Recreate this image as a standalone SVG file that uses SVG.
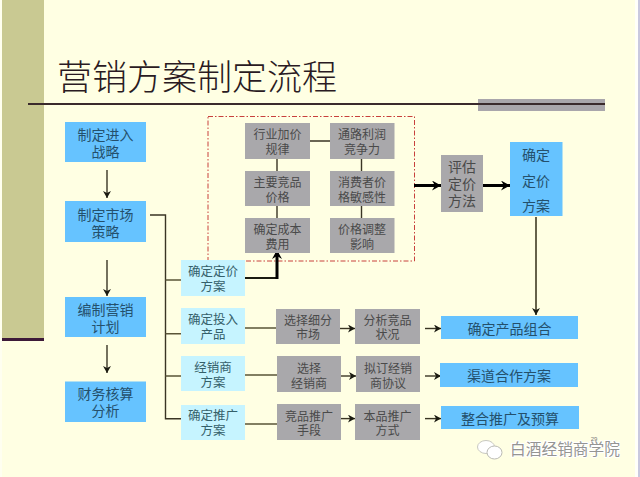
<svg xmlns="http://www.w3.org/2000/svg" width="640" height="477" viewBox="0 0 640 477">
<style>
text{font-family:"Liberation Sans","Noto Sans CJK SC",sans-serif;text-anchor:middle;font-size:14px}
.b{fill:#66C3FF}.l{fill:#C6F4FF}.g{fill:#A9A8AB}
.bt{fill:#24506C}.lt{fill:#35606A}.gt{fill:#4A4A4A}
.s13{font-size:12.500px}.s12{font-size:12px}
.c{fill:none;stroke:#3A3524;stroke-width:1.400}
.t{fill:none;stroke:#000;stroke-width:3}
.h{fill:none;stroke:#1A1A10;stroke-width:2}
.m{fill:none;stroke:#5A5538;stroke-width:1.600}
</style>
<defs>
<marker id="a" markerUnits="userSpaceOnUse" markerWidth="8" markerHeight="8" refX="7" refY="4" orient="auto"><path d="M0 0L7 4L0 8L2 4Z" fill="#1A1A10"/></marker>
<marker id="at" markerUnits="userSpaceOnUse" markerWidth="10" markerHeight="10" refX="9" refY="5" orient="auto"><path d="M0 0L9 5L0 10L3 5Z" fill="#000"/></marker>
</defs>
<rect width="640" height="477" fill="#FFFFE3"/>
<rect x="0" y="0" width="2" height="477" fill="#FFFFF0"/>
<rect x="635" y="0" width="3" height="477" fill="#FFFFFA"/>
<rect x="638" y="0" width="2" height="477" fill="#C9C9DE"/>
<g id="decor">
<rect x="2" y="0" width="42" height="338" fill="#C9C992"/>
<rect x="2" y="338" width="42" height="3" fill="#3D1A38"/>
<rect x="478" y="99" width="127" height="12" fill="#A9A6AB"/>
<rect x="28" y="103" width="577" height="2" fill="#3A2A2C"/>
</g>
<text id="title" x="197" y="90" style="font-size:35px;font-weight:300;fill:#2A1A22">营销方案制定流程</text>
<g id="connectors">
<rect x="208" y="116.500" width="206.500" height="144.500" fill="none" stroke="#C8403C" stroke-width="1" stroke-dasharray="5 2 1.500 2"/>
<path class="c" marker-end="url(#a)" d="M107 170V198"/>
<path class="c" marker-end="url(#a)" d="M107 260V296"/>
<path class="c" marker-end="url(#a)" d="M107 345V373"/>
<path class="c" d="M150 215H165.500V418.700H181"/>
<path class="m" d="M165.500 280H181M165.500 333.700H181M165.500 376H181"/>
<path class="c" d="M310 141H330M277 159V171M277 206V218M361.500 159V171M361.500 206V218"/>
<path class="h" d="M245 278H277"/>
<path class="t" marker-end="url(#at)" d="M277 279V250"/>
<path class="m" d="M245 328H276M245 375H277M245 424H277"/>
<path class="c" marker-end="url(#a)" d="M340 328.500H355"/>
<path class="c" marker-end="url(#a)" d="M341 376H356"/>
<path class="c" marker-end="url(#a)" d="M341 418.600H355"/>
<path class="c" marker-end="url(#a)" d="M425 328.500H441"/>
<path class="c" marker-end="url(#a)" d="M425 376H441"/>
<path class="c" marker-end="url(#a)" d="M425 418.600H441"/>
<path class="t" marker-end="url(#at)" d="M414 185.500H441"/>
<path class="t" marker-end="url(#at)" d="M483 185.500H510"/>
<path d="M536 217V315" fill="none" stroke="#66624A" stroke-width="2" marker-end="url(#a)"/>
</g>
<g id="n1"><rect class="b" x="65" y="122" width="81" height="40"/><text class="bt"><tspan x="105.500" y="140">制定进入</tspan><tspan x="105.500" y="157">战略</tspan></text></g>
<g id="n2"><rect class="b" x="65" y="201" width="81" height="41"/><text class="bt"><tspan x="105.500" y="220">制定市场</tspan><tspan x="105.500" y="237">策略</tspan></text></g>
<g id="n3"><rect class="b" x="65" y="297" width="81" height="40"/><text class="bt"><tspan x="105.500" y="315">编制营销</tspan><tspan x="105.500" y="332">计划</tspan></text></g>
<g id="n4"><rect class="b" x="65" y="381.500" width="81" height="40.500"/><text class="bt"><tspan x="105.500" y="399">财务核算</tspan><tspan x="105.500" y="416">分析</tspan></text></g>
<g id="p1"><rect class="l" x="181" y="260" width="64" height="36"/><text class="lt s13"><tspan x="213" y="276">确定定价</tspan><tspan x="213" y="291">方案</tspan></text></g>
<g id="p2"><rect class="l" x="181" y="308" width="64" height="36"/><text class="lt s13"><tspan x="213" y="324">确定投入</tspan><tspan x="213" y="339">产品</tspan></text></g>
<g id="p3"><rect class="l" x="181" y="356" width="64" height="35"/><text class="lt s13"><tspan x="213" y="372">经销商</tspan><tspan x="213" y="387">方案</tspan></text></g>
<g id="p4"><rect class="l" x="181" y="405" width="64" height="35"/><text class="lt s13"><tspan x="213" y="420">确定推广</tspan><tspan x="213" y="435">方案</tspan></text></g>
<g id="g1"><rect class="g" x="245" y="123" width="65" height="36"/><text class="gt s12"><tspan x="277.500" y="139">行业加价</tspan><tspan x="277.500" y="154">规律</tspan></text></g>
<g id="g2"><rect class="g" x="245" y="171" width="65" height="35"/><text class="gt s12"><tspan x="277.500" y="187">主要竞品</tspan><tspan x="277.500" y="202">价格</tspan></text></g>
<g id="g3"><rect class="g" x="245" y="218" width="65" height="35"/><text class="gt s12"><tspan x="277.500" y="234">确定成本</tspan><tspan x="277.500" y="249">费用</tspan></text></g>
<g id="g4"><rect class="g" x="330" y="123" width="64.500" height="36"/><text class="gt s12"><tspan x="362" y="139">通路利润</tspan><tspan x="362" y="154">竞争力</tspan></text></g>
<g id="g5"><rect class="g" x="330" y="171" width="64.500" height="35"/><text class="gt s12"><tspan x="362" y="187">消费者价</tspan><tspan x="362" y="202">格敏感性</tspan></text></g>
<g id="g6"><rect class="g" x="330" y="218" width="64.500" height="35"/><text class="gt s12"><tspan x="362" y="234">价格调整</tspan><tspan x="362" y="249">影响</tspan></text></g>
<g id="e1"><rect class="g" x="441" y="155" width="42" height="57"/><text class="gt"><tspan x="462" y="172">评估</tspan><tspan x="462" y="189">定价</tspan><tspan x="462" y="206">方法</tspan></text></g>
<g id="e2"><rect class="b" x="510" y="142" width="52.500" height="74"/><text class="bt"><tspan x="536" y="160">确定</tspan><tspan x="536" y="186">定价</tspan><tspan x="536" y="211">方案</tspan></text></g>
<g id="r1"><rect class="g" x="276" y="309" width="64" height="35"/><text class="gt s12"><tspan x="308" y="325">选择细分</tspan><tspan x="308" y="339">市场</tspan></text></g>
<g id="r2"><rect class="g" x="355" y="309" width="65" height="35"/><text class="gt s12"><tspan x="387.500" y="325">分析竞品</tspan><tspan x="387.500" y="339">状况</tspan></text></g>
<g id="r3"><rect class="g" x="277" y="356" width="64" height="36"/><text class="gt s12"><tspan x="309" y="373">选择</tspan><tspan x="309" y="388">经销商</tspan></text></g>
<g id="r4"><rect class="g" x="356" y="356" width="64" height="36"/><text class="gt s12"><tspan x="388" y="373">拟订经销</tspan><tspan x="388" y="388">商协议</tspan></text></g>
<g id="r5"><rect class="g" x="277" y="404" width="64" height="36"/><text class="gt s12"><tspan x="309" y="421">竞品推广</tspan><tspan x="309" y="435">手段</tspan></text></g>
<g id="r6"><rect class="g" x="355" y="404" width="65" height="36"/><text class="gt s12"><tspan x="387.500" y="421">本品推广</tspan><tspan x="387.500" y="435">方式</tspan></text></g>
<g id="w1"><rect class="b" x="441" y="316" width="137" height="23"/><text class="bt" x="509.500" y="334">确定产品组合</text></g>
<g id="w2"><rect class="b" x="440" y="363" width="138" height="24"/><text class="bt" x="509" y="381">渠道合作方案</text></g>
<g id="w3"><rect class="b" x="441" y="406" width="138" height="23"/><text class="bt" x="510" y="424">整合推广及预算</text></g>
<g id="watermark">
<ellipse cx="486" cy="447" rx="8.500" ry="6.500" fill="#fff" stroke="#C8C8C0" stroke-width="1"/>
<ellipse cx="494.500" cy="452.500" rx="7.500" ry="6.500" fill="#fff" stroke="#BBBBB4" stroke-width="1"/>
<text x="565" y="455" style="font-size:15.700px;fill:#959593;stroke:#fff;stroke-width:2;paint-order:stroke">白酒经销商学院</text>
<text x="594" y="441" style="font-size:6px;fill:#777">29</text>
</g>
</svg>
